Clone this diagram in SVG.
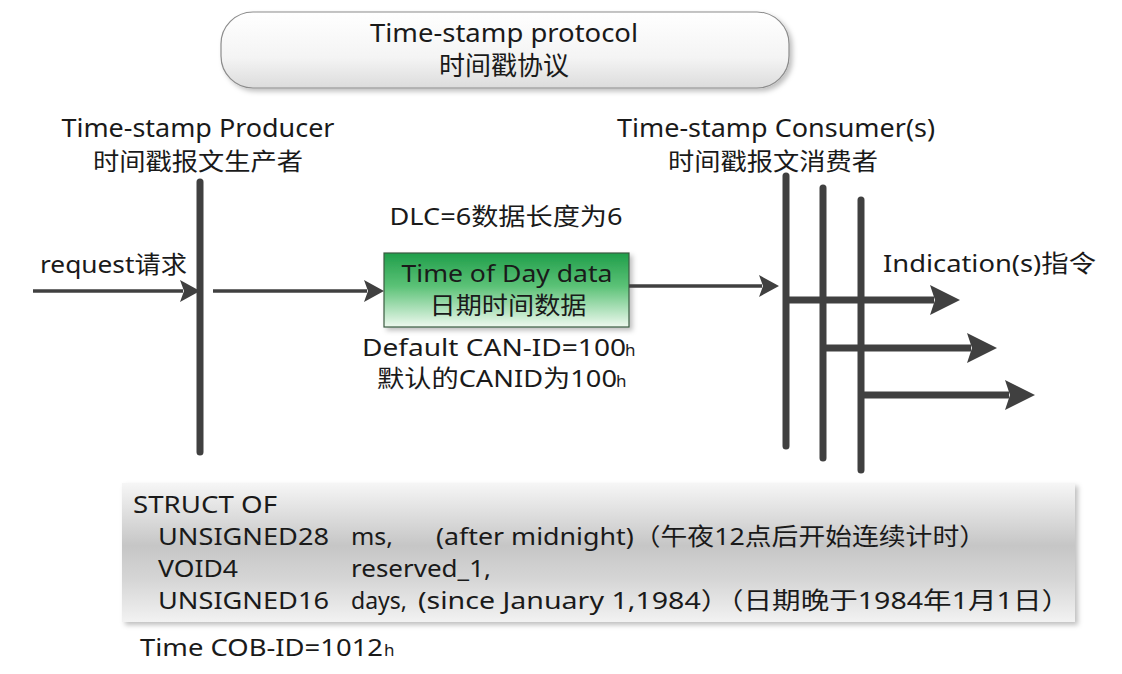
<svg xmlns="http://www.w3.org/2000/svg" width="1122" height="674" viewBox="0 0 1122 674">
<defs>
<style>
text{font-family:"Noto Sans","Noto Sans CJK SC",sans-serif;fill:#1a1a1a;}
.t26{font-size:25px;}
.t24{font-size:24px;}
.c{text-anchor:middle;}
.thin{stroke:#404040;stroke-width:3.5;fill:none;}
.bar{stroke:#404040;stroke-width:7;stroke-linecap:round;fill:none;}
.thick{stroke:#404040;stroke-width:7;fill:none;}
</style>
<linearGradient id="gTop" x1="0" y1="0" x2="0" y2="1">
<stop offset="0" stop-color="#ffffff"/>
<stop offset="0.6" stop-color="#f4f4f4"/>
<stop offset="1" stop-color="#dcdcdc"/>
</linearGradient>
<linearGradient id="gGreen" x1="0" y1="0" x2="0" y2="1">
<stop offset="0" stop-color="#1f9e4a"/>
<stop offset="0.45" stop-color="#5cc277"/>
<stop offset="1" stop-color="#eef9ef"/>
</linearGradient>
<linearGradient id="gStruct" x1="0" y1="0" x2="0" y2="1">
<stop offset="0" stop-color="#f6f6f6"/>
<stop offset="0.45" stop-color="#c6c6c6"/>
<stop offset="0.7" stop-color="#d6d6d6"/>
<stop offset="1" stop-color="#f2f2f2"/>
</linearGradient>
<filter id="sh" x="-5%" y="-20%" width="110%" height="140%">
<feDropShadow dx="3" dy="3" stdDeviation="2.5" flood-color="#000" flood-opacity="0.25"/>
</filter>
<marker id="aThin" markerUnits="userSpaceOnUse" markerWidth="22" markerHeight="24" refX="3" refY="12" orient="auto">
<path d="M0,1 L20,12 L0,23 L4,12 Z" fill="#404040"/>
</marker>
<marker id="aThick" markerUnits="userSpaceOnUse" markerWidth="32" markerHeight="32" refX="4" refY="16" orient="auto">
<path d="M0,1 L30,16 L0,31 L5,16 Z" fill="#404040"/>
</marker>
</defs>
<rect width="1122" height="674" fill="#ffffff"/>

<g id="protocol">
<rect x="221" y="12" width="568" height="76" rx="32" ry="32" fill="url(#gTop)" stroke="#8c8c8c" stroke-width="1.2" filter="url(#sh)"/>
<text class="t26 c" x="504" y="42" textLength="268" lengthAdjust="spacingAndGlyphs">Time-stamp protocol</text>
<text class="c" x="504" y="75" style="font-size:26px" textLength="130" lengthAdjust="spacingAndGlyphs">时间戳协议</text>
</g>

<g id="producer">
<text class="t26 c" x="198" y="137" textLength="273" lengthAdjust="spacingAndGlyphs">Time-stamp Producer</text>
<text class="t24 c" x="198" y="170" textLength="210" lengthAdjust="spacingAndGlyphs">时间戳报文生产者</text>
<line class="bar" x1="200" y1="182" x2="200" y2="452"/>
</g>

<g id="consumers">
<text class="t26 c" x="776" y="137" textLength="318" lengthAdjust="spacingAndGlyphs">Time-stamp Consumer(s)</text>
<text class="t24 c" x="773" y="170" textLength="210" lengthAdjust="spacingAndGlyphs">时间戳报文消费者</text>
<line class="bar" x1="786" y1="176" x2="786" y2="446"/>
<line class="bar" x1="823" y1="188" x2="823" y2="458"/>
<line class="bar" x1="861" y1="200" x2="861" y2="470"/>
</g>

<g id="tod">
<rect x="384" y="253" width="245" height="74" fill="url(#gGreen)" stroke="#3a5a40" stroke-width="1.2" filter="url(#sh)"/>
<text class="t24 c" x="507" y="282" textLength="211" lengthAdjust="spacingAndGlyphs">Time of Day data</text>
<text class="t24 c" x="508" y="314" textLength="157" lengthAdjust="spacingAndGlyphs">日期时间数据</text>
</g>

<g id="labels">
<text class="t24" x="40" y="273" textLength="147" lengthAdjust="spacingAndGlyphs">request请求</text>
<text class="t24 c" x="506" y="225" textLength="233" lengthAdjust="spacingAndGlyphs">DLC=6数据长度为6</text>
<text class="t24" x="362" y="356" textLength="264" lengthAdjust="spacingAndGlyphs">Default CAN-ID=100</text>
<text x="625" y="356" style="font-size:17px">h</text>
<text class="t24" x="377" y="387" textLength="240" lengthAdjust="spacingAndGlyphs">默认的CANID为100</text>
<text x="616" y="387" style="font-size:17px">h</text>
<text class="t24" x="883" y="272" textLength="213" lengthAdjust="spacingAndGlyphs">Indication(s)指令</text>
</g>

<g id="connectors">
<line class="thin" x1="33" y1="291" x2="183" y2="291" marker-end="url(#aThin)"/>
<line class="thin" x1="213" y1="291" x2="367" y2="291" marker-end="url(#aThin)"/>
<line class="thin" x1="629" y1="286" x2="762" y2="286" marker-end="url(#aThin)"/>
<line class="thick" x1="786" y1="300" x2="934" y2="300" marker-end="url(#aThick)"/>
<line class="thick" x1="823" y1="348" x2="971" y2="348" marker-end="url(#aThick)"/>
<line class="thick" x1="861" y1="395" x2="1009" y2="395" marker-end="url(#aThick)"/>
</g>

<g id="struct">
<rect x="122" y="483" width="953" height="139" fill="url(#gStruct)" filter="url(#sh)"/>
<text class="t24" x="133" y="513" textLength="144" lengthAdjust="spacingAndGlyphs">STRUCT OF</text>
<text class="t24" x="158" y="545" textLength="171" lengthAdjust="spacingAndGlyphs">UNSIGNED28</text>
<text class="t24" x="351" y="545" textLength="42" lengthAdjust="spacingAndGlyphs">ms,</text>
<text class="t24" x="436" y="545" textLength="550" lengthAdjust="spacingAndGlyphs">(after midnight)（午夜12点后开始连续计时）</text>
<text class="t24" x="158" y="577" textLength="80" lengthAdjust="spacingAndGlyphs">VOID4</text>
<text class="t24" x="351" y="577" textLength="140" lengthAdjust="spacingAndGlyphs">reserved_1,</text>
<text class="t24" x="158" y="609" textLength="171" lengthAdjust="spacingAndGlyphs">UNSIGNED16</text>
<text class="t24" x="351" y="609" textLength="56" lengthAdjust="spacingAndGlyphs">days,</text>
<text class="t24" x="418" y="609" textLength="652" lengthAdjust="spacingAndGlyphs">(since January 1,1984）（日期晚于1984年1月1日）</text>
</g>

<g id="cobid">
<text class="t24" x="140" y="656" textLength="243" lengthAdjust="spacingAndGlyphs">Time COB-ID=1012</text>
<text x="384" y="656" style="font-size:17px">h</text>
</g>
</svg>
